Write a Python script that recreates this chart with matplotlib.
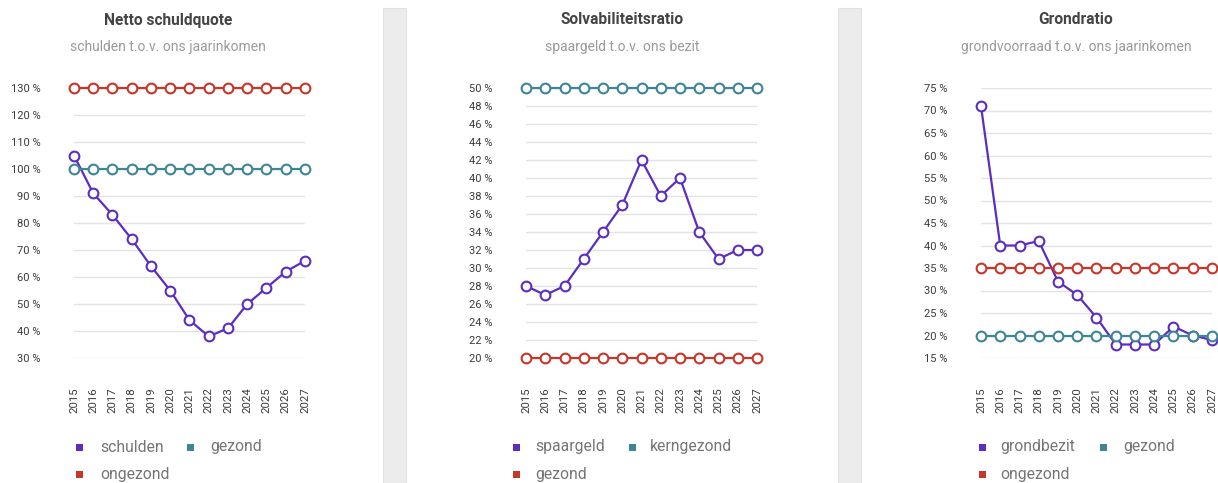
import matplotlib
matplotlib.use("Agg")
import matplotlib.pyplot as plt
from matplotlib.patches import Rectangle

plt.rcParams["font.family"] = ["Roboto", "DejaVu Sans"]

W, H = 1218, 483

years = [2015, 2016, 2017, 2018, 2019, 2020, 2021, 2022, 2023, 2024, 2025, 2026, 2027]

# Netto schuldquote
schulden = [105, 91, 83, 74, 64, 55, 44, 38, 41, 50, 56, 62, 66]
schuld_gezond = [100] * len(years)
schuld_ongezond = [130] * len(years)
schuld_ticks = [30, 40, 50, 60, 70, 80, 90, 100, 110, 120, 130]

# Solvabiliteitsratio
spaargeld = [28, 27, 28, 31, 34, 37, 42, 38, 40, 34, 31, 32, 32]
solv_kerngezond = [50] * len(years)
solv_gezond = [20] * len(years)
solv_ticks = [20, 22, 24, 26, 28, 30, 32, 34, 36, 38, 40, 42, 44, 46, 48, 50]

# Grondratio
grondbezit = [71, 40, 40, 41, 32, 29, 24, 18, 18, 18, 22, 20, 19]
grond_gezond = [20] * len(years)
grond_ongezond = [35] * len(years)
grond_ticks = [15, 20, 25, 30, 35, 40, 45, 50, 55, 60, 65, 70, 75]

PURPLE = "#5b2ec0"
TEAL = "#3e8596"
RED = "#c6372a"

fig = plt.figure(figsize=(W / 100, H / 100), dpi=100)
fig.patch.set_facecolor("white")

# grey separators between the panels
for sx in (383, 838):
    fig.add_artist(Rectangle((sx / W, 0), 23 / W, (H - 8) / H,
                             transform=fig.transFigure, facecolor="#ececec",
                             edgecolor="#e2e2e2", linewidth=0.8))


def px(x, y):
    return x / W, 1 - y / H


def panel(left, right, ymin, ymax, ticks, series, title, subtitle, tcx, legend):
    bottom_px, top_px = 358, 88
    ax = fig.add_axes([left / W, 1 - bottom_px / H, (right - left) / W,
                       (bottom_px - top_px) / H])
    ax.set_xlim(0, len(years) - 1)
    ax.set_ylim(ymin, ymax)
    for s in ax.spines.values():
        s.set_visible(False)
    ax.set_yticks(ticks)
    ax.set_yticklabels([f"{t} %" for t in ticks])
    ax.set_xticks(range(len(years)))
    ax.set_xticklabels([str(y) for y in years], rotation=90)
    ax.tick_params(axis="y", length=0, pad=24, labelsize=8, labelcolor="#3c3c3c")
    ax.tick_params(axis="x", length=0, pad=21, labelsize=8.2, labelcolor="#3c3c3c")
    ax.grid(axis="y", color="#e3e3e3", linewidth=1)
    ax.set_axisbelow(True)
    for z, (vals, col) in enumerate(series):
        ax.plot(range(len(years)), vals, color=col, linewidth=1.6, marker="o",
                markersize=7, markerfacecolor="white", markeredgecolor=col,
                markeredgewidth=1.5, clip_on=False, zorder=3 + z)

    fig.text(*px(tcx, 20), title, ha="center", va="center", fontsize=11.2,
             fontweight="bold", color="#444444")
    fig.text(*px(tcx, 47), subtitle, ha="center", va="center", fontsize=10,
             color="#9a9a9a")

    for sq_x, txt_x, y, label, col in legend:
        fig.add_artist(Rectangle(((sq_x - 3.5) / W, 1 - (y + 3.5) / H), 7 / W, 7 / H,
                                 transform=fig.transFigure, facecolor=col,
                                 edgecolor="none"))
        fig.text(*px(txt_x, y), label, ha="left", va="center", fontsize=11.3,
                 color="#757575")
    return ax


panel(74, 305, 30, 130, schuld_ticks,
      [(schulden, PURPLE), (schuld_gezond, TEAL), (schuld_ongezond, RED)],
      "Netto schuldquote", "schulden t.o.v. ons jaarinkomen", 168,
      [(79.5, 100, 447, "schulden", PURPLE), (190, 210, 447, "gezond", TEAL),
       (79.5, 100, 474, "ongezond", RED)])

panel(526, 757, 20, 50, solv_ticks,
      [(spaargeld, PURPLE), (solv_kerngezond, TEAL), (solv_gezond, RED)],
      "Solvabiliteitsratio", "spaargeld t.o.v. ons bezit", 622,
      [(516, 535, 447, "spaargeld", PURPLE), (632, 650, 447, "kerngezond", TEAL),
       (516, 535, 474, "gezond", RED)])

panel(981, 1212, 15, 75, grond_ticks,
      [(grondbezit, PURPLE), (grond_gezond, TEAL), (grond_ongezond, RED)],
      "Grondratio", "grondvoorraad t.o.v. ons jaarinkomen", 1076,
      [(982, 1000, 447, "grondbezit", PURPLE), (1103, 1123, 447, "gezond", TEAL),
       (982, 1000, 474, "ongezond", RED)])

fig.savefig("out.png", dpi=100)
